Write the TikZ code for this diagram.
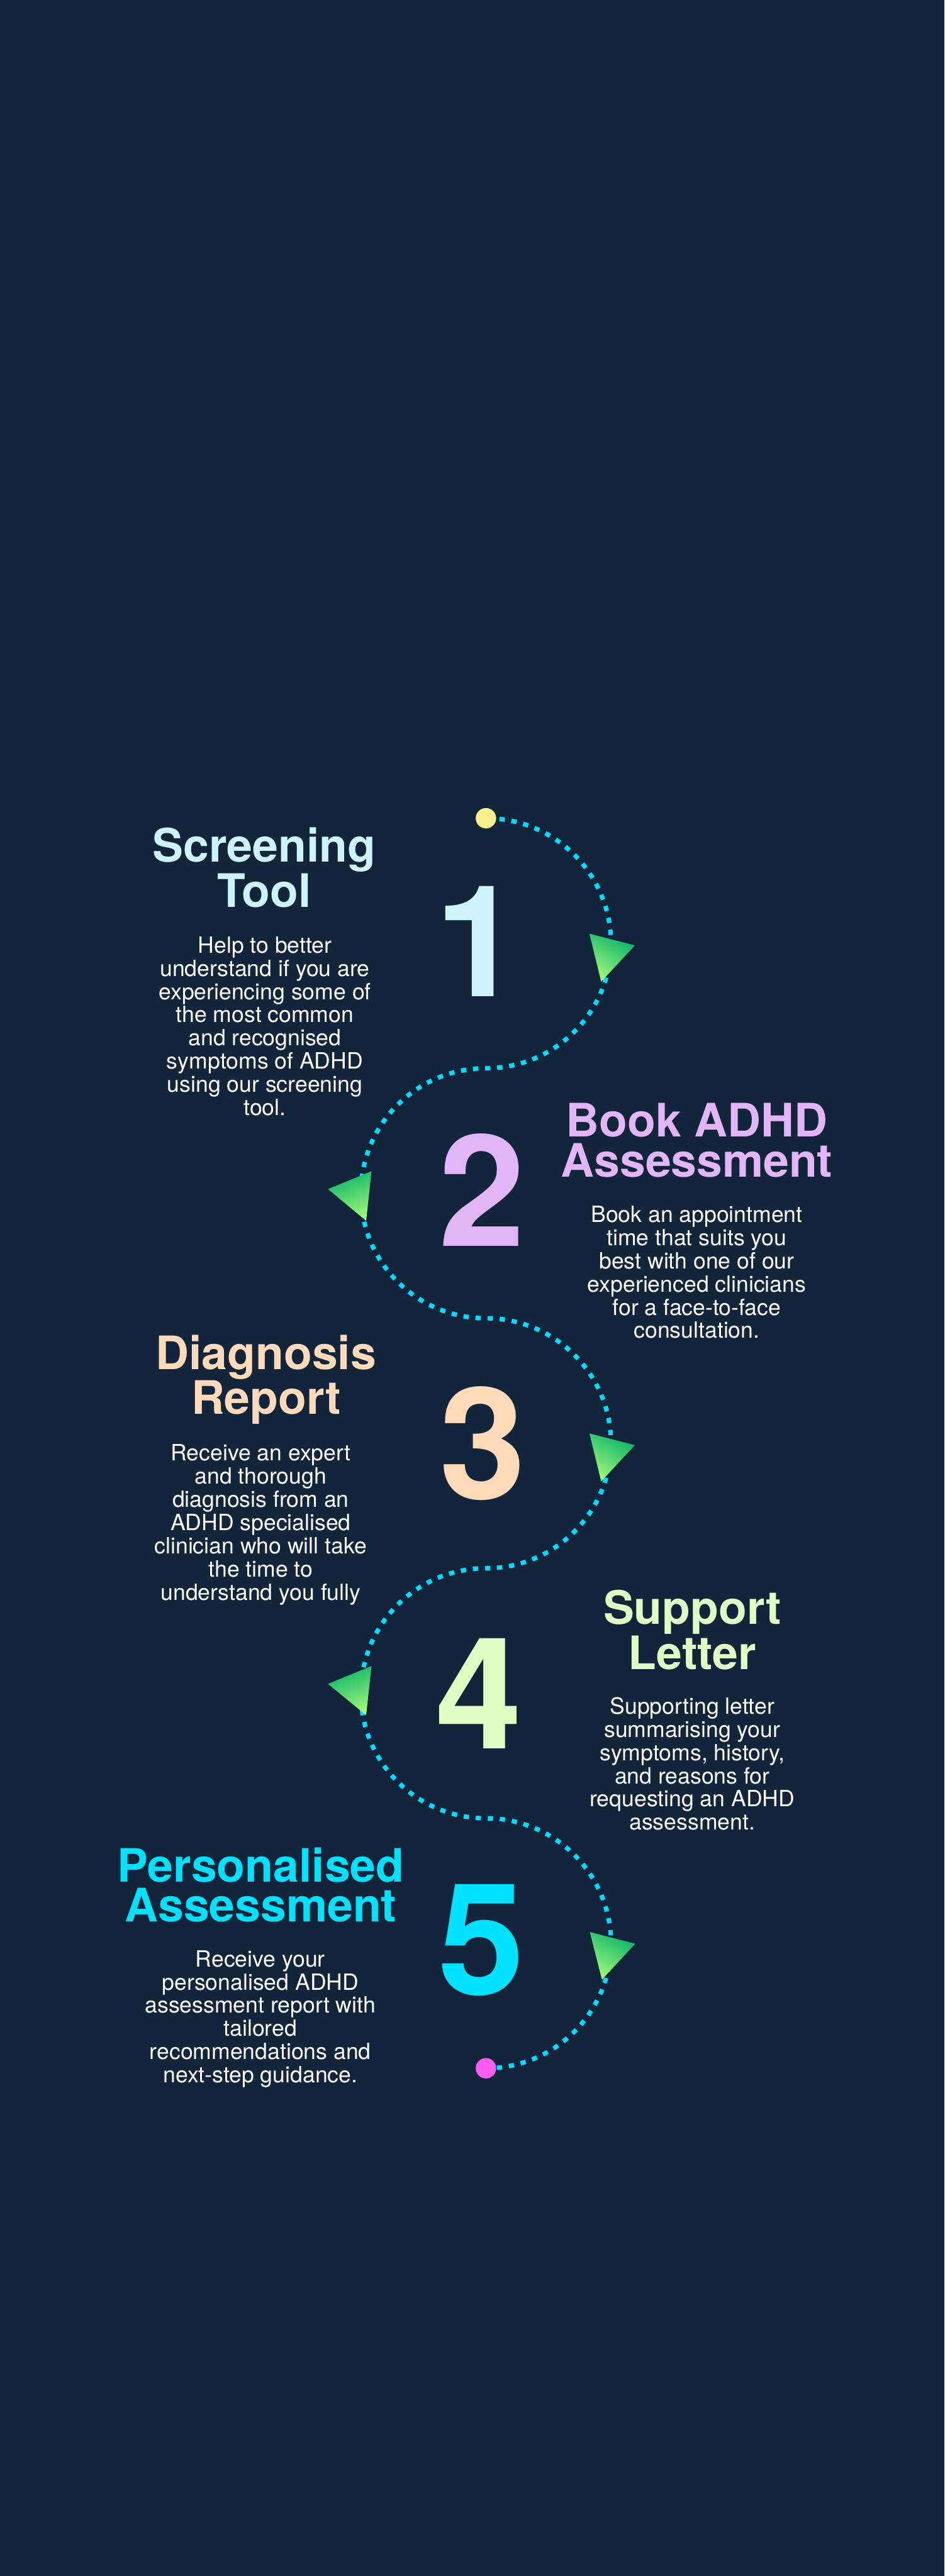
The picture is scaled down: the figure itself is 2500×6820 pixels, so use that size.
\documentclass[tikz,border=0pt]{standalone}
\usepackage{fontspec}
\setmainfont{TeX Gyre Heros}

\definecolor{bg}{RGB}{19,37,59}
\definecolor{trailcyan}{RGB}{0,219,255}
\definecolor{c1}{RGB}{205,243,253}
\definecolor{c2}{RGB}{226,182,246}
\definecolor{c3}{RGB}{254,217,186}
\definecolor{c4}{RGB}{225,252,197}
\definecolor{c5}{RGB}{0,225,255}
\definecolor{dotyellow}{RGB}{245,239,140}
\definecolor{dotpink}{RGB}{255,92,240}
\definecolor{darkgreen}{RGB}{12,180,106}
\definecolor{lightgreen}{RGB}{158,247,122}

\begin{document}
\begin{tikzpicture}[x=0.01cm, y=-0.01cm,
  title/.style={anchor=base, align=center, inner sep=0pt, font=\fontsize{34.7}{30.2}\selectfont\bfseries},
  body/.style={anchor=base, align=center, inner sep=0pt, text=white, font=\fontsize{16.85}{17.47}\selectfont},
  num/.style={anchor=base, inner sep=0pt, font=\fontsize{117}{117}\selectfont\bfseries},
  trail/.style={trailcyan, line width=3.4pt, dash pattern=on 4pt off 5.1pt, dash phase=8pt},
  tri/.style={top color=darkgreen, bottom color=lightgreen},
  dot/.style={circle, minimum size=0.54cm, inner sep=0pt}]
\fill[bg] (0,0) rectangle (2500,6820);

% the winding trail
\coordinate (top) at (1286,2166.25);
\draw[trail] (top)
  arc[start angle=90, end angle=-90, radius=3.3075cm] coordinate (j1)
  arc[start angle=90, end angle=270, radius=3.3075cm] coordinate (j2)
  arc[start angle=90, end angle=-90, radius=3.3075cm] coordinate (j3)
  arc[start angle=90, end angle=270, radius=3.3075cm] coordinate (j4)
  arc[start angle=90, end angle=-90, radius=3.3075cm] coordinate (j5);

\shade[tri, shading angle=-30] (1560,2472) -- (1680,2503) -- (1591,2599) -- cycle;
\shade[tri, shading angle=20] (983,3101) -- (868,3148) -- (969,3232) -- cycle;
\shade[tri, shading angle=-30] (1560,3795) -- (1680,3826) -- (1591,3922) -- cycle;
\shade[tri, shading angle=20] (983,4411) -- (868,4458) -- (969,4541) -- cycle;
\shade[tri, shading angle=-30] (1561,5115) -- (1681,5146) -- (1593,5241) -- cycle;

\node[dot, fill=dotyellow] (startdot) at (top) {};
\node[dot, fill=dotpink] (enddot) at (j5) {};

% step 1 (base = last line)
\node[title, text=c1] (t1) at (699,2401) {Screening\\Tool};
\node[body] (b1) at (701,2953) {Help to better\\understand if you are\\experiencing some of\\the most common\\and recognised\\symptoms of ADHD\\using our screening\\tool.};
\node[num, text=c1] (n1) at (1265,2638) {1};

% step 2
\node[title, text=c2] (t2) at (1844,3116) {Book ADHD\\Assessment};
\node[body] (b2) at (1844,3543) {Book an appointment\\time that suits you\\best with one of our\\experienced clinicians\\for a face-to-face\\consultation.};
\node[num, text=c2] (n2) at (1276,3299) {2};

% step 3
\node[title, text=c3] (t3) at (704,3744) {Diagnosis\\Report};
\node[body] (b3) at (690,4236) {Receive an expert\\and thorough\\diagnosis from an\\ADHD specialised\\clinician who will take\\the time to\\understand you fully};
\node[num, text=c3] (n3) at (1277,3968) {3};

% step 4
\node[title, text=c4] (t4) at (1832,4419) {Support\\Letter};
\node[body] (b4) at (1832,4845) {Supporting letter\\summarising your\\symptoms, history,\\and reasons for\\requesting an ADHD\\assessment.};
\node[num, text=c4] (n4) at (1267,4630) {4};

% step 5
\node[title, text=c5] (t5) at (690,5088) {Personalised\\Assessment};
\node[body] (b5) at (689,5514) {Receive your\\personalised ADHD\\assessment report with\\tailored\\recommendations and\\next-step guidance.};
\node[num, text=c5] (n5) at (1274,5281) {5};
\end{tikzpicture}
\end{document}
